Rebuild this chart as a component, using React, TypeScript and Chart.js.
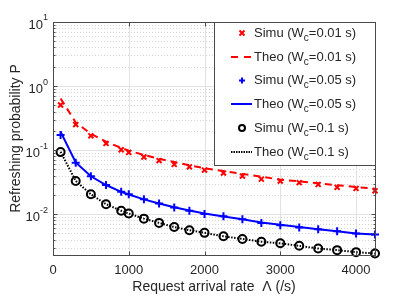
import React, { useEffect, useRef } from 'react';
import { Chart, registerables } from 'chart.js';
Chart.register(...registerables);

// ---- data ----
const rates = [100, 300, 500, 700, 900, 1000, 1200, 1400, 1600, 1800, 2000, 2250, 2500, 2750, 3000, 3250, 3500, 3750, 4000, 4250];
const simu001 = [0.505, 0.25, 0.167, 0.127, 0.101, 0.092, 0.078, 0.0686, 0.0598, 0.0548, 0.0487, 0.0437, 0.0393, 0.0352, 0.0328, 0.031, 0.0291, 0.0262, 0.0252, 0.0231];
const theo001 = [0.64, 0.27, 0.18, 0.135, 0.108, 0.098, 0.084, 0.073, 0.065, 0.058, 0.052, 0.047, 0.0425, 0.0385, 0.0345, 0.0325, 0.0303, 0.0283, 0.0265, 0.025];
const simu005 = [0.172, 0.0634, 0.039, 0.0284, 0.0223, 0.0204, 0.017, 0.0147, 0.0127, 0.0113, 0.01, 0.0093, 0.0083, 0.0073, 0.0067, 0.0062, 0.0058, 0.0054, 0.005, 0.0048];
const theo005 = [0.193, 0.064, 0.039, 0.0285, 0.0223, 0.0203, 0.017, 0.0147, 0.0128, 0.0114, 0.0102, 0.0092, 0.0083, 0.0074, 0.0068, 0.0063, 0.0058, 0.0054, 0.005, 0.0048];
const simu01 = [0.093, 0.033, 0.0204, 0.0143, 0.0113, 0.0102, 0.0085, 0.0073, 0.0063, 0.0056, 0.0051, 0.0045, 0.0041, 0.0037, 0.0035, 0.0032, 0.0029, 0.00274, 0.00255, 0.00243];
const theo01 = [0.094, 0.033, 0.0204, 0.0143, 0.0113, 0.0102, 0.0085, 0.0073, 0.0063, 0.0056, 0.0051, 0.0045, 0.0041, 0.0037, 0.0035, 0.0032, 0.0029, 0.00274, 0.00255, 0.00243];

const xTickValues = [0, 1000, 2000, 3000, 4000];
const xTickLabels = ['0', '1000', '2000', '3000', '4000'];
const yTickValues = [0.01, 0.1, 1, 10];
const yTickExps = ['-2', '-1', '0', '1'];
const legendLabels = [
  ['Simu (W', 'c', '=0.01 s)'],
  ['Theo (W', 'c', '=0.01 s)'],
  ['Simu (W', 'c', '=0.05 s)'],
  ['Theo (W', 'c', '=0.05 s)'],
  ['Simu (W', 'c', '=0.1 s)'],
  ['Theo (W', 'c', '=0.1 s)'],
];
const xTitle = 'Request arrival rate  \u039B (/s)';
const yTitle = 'Refreshing probability P';

const X_MIN = 0, X_MAX = 4250, Y_MIN = 0.0023, Y_MAX = 10;
const FONT = '"Liberation Sans", Arial, Helvetica, sans-serif';
const TXT = '#262626';

const toXY = (ys: number[]) => rates.map((x, i) => ({ x, y: ys[i] }));

const decoPlugin = {
  id: 'deco',
  beforeDatasetsDraw(chart: any) {
    const { ctx, chartArea: a, scales } = chart;
    const xs = scales.x, ys = scales.y;
    ctx.save();
    // minor y grid
    ctx.strokeStyle = '#d4d4d4';
    ctx.lineWidth = 1;
    ctx.setLineDash([1, 2]);
    for (let e = -3; e <= 1; e++) {
      for (let k = 2; k <= 9; k++) {
        const v = k * Math.pow(10, e);
        if (v < Y_MIN || v > Y_MAX) continue;
        const py = Math.round(ys.getPixelForValue(v)) + 0.5;
        ctx.beginPath(); ctx.moveTo(a.left, py); ctx.lineTo(a.right, py); ctx.stroke();
      }
    }
    ctx.setLineDash([]);
    ctx.strokeStyle = '#e2e2e2';
    yTickValues.forEach((v) => {
      const py = Math.round(ys.getPixelForValue(v)) + 0.5;
      ctx.beginPath(); ctx.moveTo(a.left, py); ctx.lineTo(a.right, py); ctx.stroke();
    });
    xTickValues.forEach((v) => {
      const px = Math.round(xs.getPixelForValue(v)) + 0.5;
      ctx.beginPath(); ctx.moveTo(px, a.top); ctx.lineTo(px, a.bottom); ctx.stroke();
    });
    ctx.restore();
  },
  afterDatasetsDraw(chart: any) {
    const { ctx, chartArea: a, scales } = chart;
    const xs = scales.x, ys = scales.y;
    ctx.save();
    // axes box
    ctx.strokeStyle = '#4a4a4a';
    ctx.lineWidth = 1;
    const L = Math.round(a.left) + 0.5, R = Math.round(a.right) + 0.5;
    const T = Math.round(a.top) + 0.5, B = Math.round(a.bottom) + 0.5;
    ctx.strokeRect(L, T, R - L, B - T);
    // ticks
    ctx.beginPath();
    xTickValues.forEach((v) => {
      const px = Math.round(xs.getPixelForValue(v)) + 0.5;
      ctx.moveTo(px, B); ctx.lineTo(px, B - 4);
      ctx.moveTo(px, T); ctx.lineTo(px, T + 4);
    });
    for (let e = -3; e <= 1; e++) {
      for (let k = 1; k <= 9; k++) {
        const v = k * Math.pow(10, e);
        if (v < Y_MIN || v > Y_MAX) continue;
        const len = k === 1 ? 4 : 2;
        const py = Math.round(ys.getPixelForValue(v)) + 0.5;
        ctx.moveTo(L, py); ctx.lineTo(L + len, py);
        ctx.moveTo(R, py); ctx.lineTo(R - len, py);
      }
    }
    ctx.stroke();
    // x tick labels
    ctx.fillStyle = TXT;
    ctx.font = `13px ${FONT}`;
    ctx.textAlign = 'center';
    ctx.textBaseline = 'middle';
    xTickValues.forEach((v, i) => {
      ctx.fillText(xTickLabels[i], xs.getPixelForValue(v), 270);
    });
    // y tick labels with superscripts
    yTickValues.forEach((v, i) => {
      const py = ys.getPixelForValue(v);
      ctx.font = `9px ${FONT}`;
      const ew = ctx.measureText(yTickExps[i]).width;
      ctx.textAlign = 'right';
      ctx.fillText(yTickExps[i], 48, py - 4);
      ctx.font = `13px ${FONT}`;
      ctx.fillText('10', 48 - ew, py + 3);
    });
    // axis titles
    ctx.font = `14px ${FONT}`;
    ctx.textAlign = 'center';
    ctx.fillText(xTitle, (a.left + a.right) / 2, 287);
    ctx.save();
    ctx.translate(16, (a.top + a.bottom) / 2);
    ctx.rotate(-Math.PI / 2);
    ctx.fillText(yTitle, 0, 0);
    ctx.restore();

    // legend
    const lx = 214.5, ly = T, lw = R - lx, lh = 143;
    ctx.fillStyle = '#ffffff';
    ctx.fillRect(lx, ly, lw, lh);
    ctx.strokeStyle = '#4a4a4a';
    ctx.strokeRect(lx, ly, lw, lh);
    const rowY = [33, 57, 80.5, 104, 128, 152];
    const symX = 242, lineA = 231, lineB = 252, textX = 254;
    rowY.forEach((y, i) => {
      ctx.save();
      ctx.lineWidth = 2;
      if (i === 0) {
        ctx.strokeStyle = '#ff0000';
        ctx.beginPath();
        ctx.moveTo(symX - 2.5, y - 2.5); ctx.lineTo(symX + 2.5, y + 2.5);
        ctx.moveTo(symX + 2.5, y - 2.5); ctx.lineTo(symX - 2.5, y + 2.5);
        ctx.stroke();
      } else if (i === 1) {
        ctx.strokeStyle = '#ff0000';
        ctx.setLineDash([7, 6]);
        ctx.beginPath(); ctx.moveTo(lineA, y); ctx.lineTo(lineB, y); ctx.stroke();
      } else if (i === 2) {
        ctx.strokeStyle = '#0000ff';
        ctx.beginPath();
        ctx.moveTo(symX - 3, y); ctx.lineTo(symX + 3, y);
        ctx.moveTo(symX, y - 3); ctx.lineTo(symX, y + 3);
        ctx.stroke();
      } else if (i === 3) {
        ctx.strokeStyle = '#0000ff';
        ctx.beginPath(); ctx.moveTo(lineA, y); ctx.lineTo(lineB, y); ctx.stroke();
      } else if (i === 4) {
        ctx.strokeStyle = '#000000';
        ctx.beginPath(); ctx.arc(symX, y, 3, 0, Math.PI * 2); ctx.stroke();
      } else {
        ctx.strokeStyle = '#000000';
        ctx.setLineDash([1.5, 1]);
        ctx.beginPath(); ctx.moveTo(lineA, y); ctx.lineTo(lineB, y); ctx.stroke();
      }
      ctx.restore();
      const [p1, sub, p2] = legendLabels[i];
      ctx.fillStyle = TXT;
      ctx.textAlign = 'left';
      ctx.textBaseline = 'middle';
      ctx.font = `13px ${FONT}`;
      ctx.fillText(p1, textX, y);
      let cx = textX + ctx.measureText(p1).width;
      ctx.font = `10px ${FONT}`;
      ctx.fillText(sub, cx, y + 5);
      cx += ctx.measureText(sub).width;
      ctx.font = `13px ${FONT}`;
      ctx.fillText(p2, cx, y);
    });
    ctx.restore();
  },
};

export default function App() {
  const ref = useRef<HTMLCanvasElement | null>(null);
  useEffect(() => {
    if (!ref.current) return;
    const chart = new Chart(ref.current, {
      type: 'scatter',
      data: {
        datasets: [
          { label: 'Simu (Wc=0.01 s)', data: toXY(simu001), showLine: false, pointStyle: 'crossRot', pointRadius: 3.5, borderWidth: 2, borderColor: '#ff0000', backgroundColor: '#ff0000', clip: false },
          { label: 'Theo (Wc=0.01 s)', data: toXY(theo001), showLine: true, pointRadius: 0, borderWidth: 2, borderColor: '#ff0000', borderDash: [7, 5], tension: 0, clip: 2 },
          { label: 'Simu (Wc=0.05 s)', data: toXY(simu005), showLine: false, pointStyle: 'cross', pointRadius: 4, borderWidth: 2, borderColor: '#0000ff', backgroundColor: '#0000ff', clip: false },
          { label: 'Theo (Wc=0.05 s)', data: toXY(theo005), showLine: true, pointRadius: 0, borderWidth: 2, borderColor: '#0000ff', tension: 0, clip: 2 },
          { label: 'Simu (Wc=0.1 s)', data: toXY(simu01), showLine: false, pointStyle: 'circle', pointRadius: 4, borderWidth: 2, borderColor: '#000000', backgroundColor: 'rgba(0,0,0,0)', clip: false },
          { label: 'Theo (Wc=0.1 s)', data: toXY(theo01), showLine: true, pointRadius: 0, borderWidth: 2, borderColor: '#000000', borderDash: [1.5, 1.5], tension: 0, clip: 2 },
        ],
      } as any,
      options: {
        animation: false,
        responsive: false,
        events: [],
        layout: { padding: { top: 22, right: 40, left: 0, bottom: 0 } },
        plugins: { legend: { display: false }, tooltip: { enabled: false }, title: { display: false } },
        scales: {
          x: {
            type: 'linear', min: X_MIN, max: X_MAX,
            ticks: { display: false }, grid: { display: false }, border: { display: false },
            afterFit: (s: any) => { s.height = 42; },
          },
          y: {
            type: 'logarithmic', min: Y_MIN, max: Y_MAX,
            ticks: { display: false }, grid: { display: false }, border: { display: false },
            afterFit: (s: any) => { s.width = 53; },
          },
        },
      } as any,
      plugins: [decoPlugin],
    });
    return () => chart.destroy();
  }, []);
  return (
    <div style={{ position: 'fixed', left: 0, top: 0, width: 415, height: 297, background: '#fff' }}>
      <canvas ref={ref} width={415} height={297} />
    </div>
  );
}
